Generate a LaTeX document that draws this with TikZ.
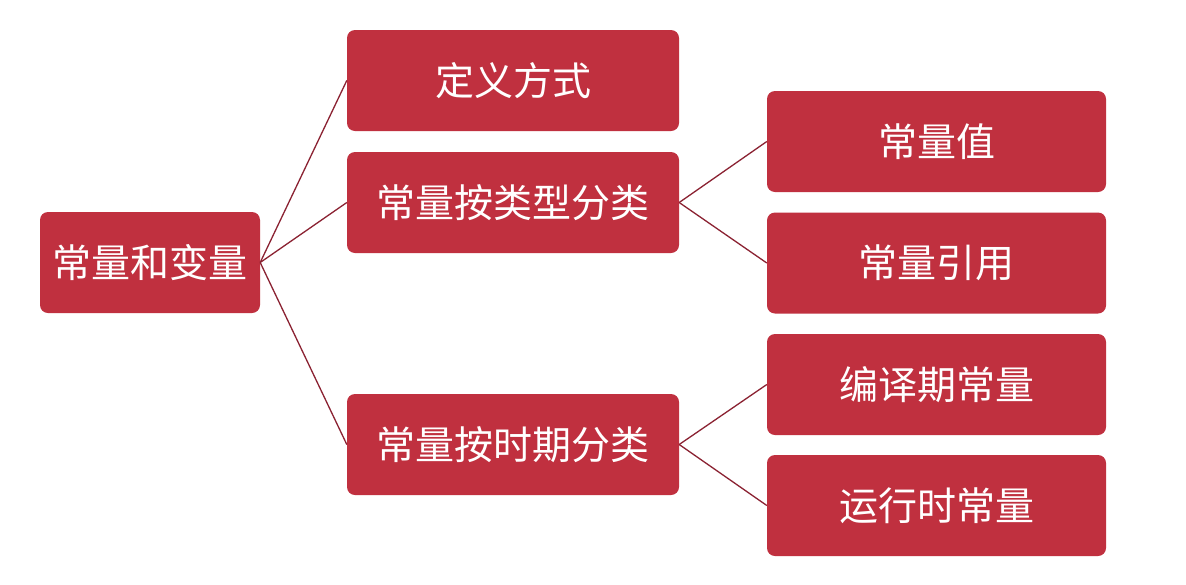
\documentclass[tikz,border=0pt]{standalone}
\usepackage{fontspec}
\newfontfamily\cjk{Noto Sans CJK SC}
\definecolor{boxred}{HTML}{C0303F}
\definecolor{linered}{HTML}{8B2232}
\begin{document}
\begin{tikzpicture}[x=1pt,y=-1pt,
  box/.style={fill=boxred, rounded corners=8pt, text=white, inner sep=0pt,
    minimum height=101pt, font=\cjk\fontsize{39}{44}\selectfont},
  rootbox/.style={box, minimum width=220pt},
  midbox/.style={box, minimum width=332pt},
  leafbox/.style={box, minimum width=339pt},
  link/.style={draw=linered, line width=1.3pt}]
\useasboundingbox[fill=white] (0,0) rectangle (1186,584);
\node[rootbox] (root) at (150,262.5) {常量和变量};
\node[midbox] (def) at (513,80.5) {定义方式};
\node[midbox] (type) at (513,202.5) {常量按类型分类};
\node[midbox] (time) at (513,444.5) {常量按时期分类};
\node[leafbox] (val) at (936.5,141.5) {常量值};
\node[leafbox] (ref) at (936.5,263) {常量引用};
\node[leafbox] (comp) at (936.5,384.5) {编译期常量};
\node[leafbox] (run) at (936.5,505.5) {运行时常量};
\path[link] (root.east) -- (def.west);
\path[link] (root.east) -- (type.west);
\path[link] (root.east) -- (time.west);
\path[link] (type.east) -- (val.west);
\path[link] (type.east) -- (ref.west);
\path[link] (time.east) -- (comp.west);
\path[link] (time.east) -- (run.west);
\end{tikzpicture}
\end{document}
